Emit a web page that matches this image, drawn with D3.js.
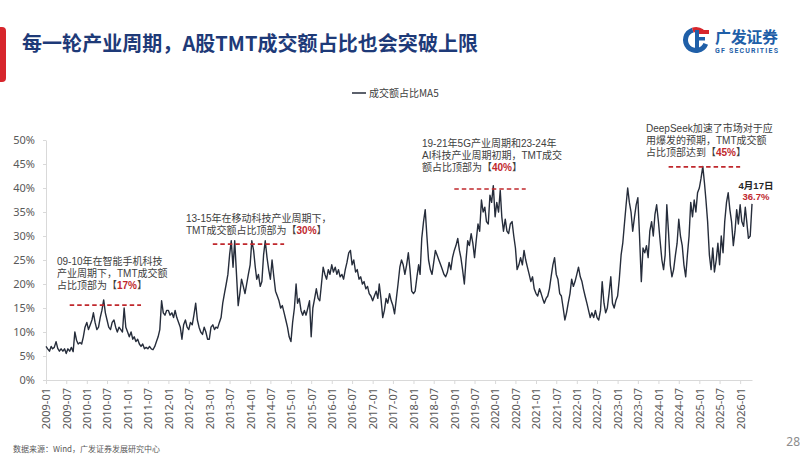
<!DOCTYPE html>
<html>
<head>
<meta charset="UTF-8">
<title>TMT成交额占比</title>
<script src="https://d3js.org/d3.v7.min.js"></script>
<style>
body { margin: 0; background: #fff; }
svg { display: block; font-family: "Noto Sans CJK SC", "Noto Sans", sans-serif; }
.note { font-family: "Liberation Sans", "Noto Sans CJK SC", sans-serif; }
</style>
</head>
<body>
<svg id="chart" width="800" height="456"></svg>
<script>
const v2009 = [7.0,6.5,6.0,7.0,6.5,6.8,8.0,6.6,6.0,6.5,6.0,6.5,5.5,6.5,6.0,6.8,5.9,10.0,8.3,7.5,7.8,7.5,9.0,11.0];
const v2010 = [12.0,10.5,11.5,12.5,14.0,12.0,10.5,11.0,13.0,14.5,16.7,14.0,12.5,11.0,10.5,12.0,12.5,11.0,10.0,11.0,10.5,10.0,15.0,11.0];
const v2011 = [10.0,9.0,10.0,8.5,9.0,8.0,8.5,7.5,7.0,7.5,6.5,6.8,6.5,7.0,6.5,6.3,7.0,8.0,9.0,10.5,16.5,14.0,13.5,14.5];
const v2012 = [14.5,13.5,14.0,13.0,14.5,13.0,12.0,11.0,8.5,11.5,12.5,11.0,10.5,12.0,11.5,13.5,16.0,12.5,11.0,10.0,9.5,11.0,10.0,8.5];
const v2013 = [8.5,11.0,11.5,10.5,11.0,10.8,12.0,13.0,16.0,18.0,20.0,22.0,26.0,29.0,23.5,29.0,22.0,15.5,18.0,21.0,19.5,18.0,20.0,22.0];
const v2014 = [24.0,29.0,27.0,23.5,21.0,22.0,19.5,20.5,26.0,29.0,25.5,23.0,21.0,25.0,21.5,18.5,17.5,16.5,15.0,15.5,14.0,12.5,11.0,9.0];
const v2015 = [8.0,12.0,15.0,20.0,16.0,17.0,14.5,13.5,14.5,13.5,15.0,16.5,9.0,15.0,17.0,19.0,17.0,16.5,20.0,23.5,22.0,21.0,23.0,22.0];
const v2016 = [24.0,22.5,23.5,22.0,23.0,21.5,22.0,21.0,23.0,24.5,26.5,27.0,24.0,25.0,22.5,23.0,21.0,21.5,20.0,20.5,19.0,19.5,18.0,17.5];
const v2017 = [16.5,17.5,18.5,17.0,20.0,17.0,13.0,14.5,17.0,16.0,18.0,16.5,15.5,13.8,17.0,20.0,23.5,25.0,24.0,22.0,24.0,26.5,23.0,18.5];
const v2018 = [18.0,18.5,21.5,24.0,22.0,29.5,33.0,35.5,30.0,25.0,23.0,22.0,24.5,27.0,26.0,25.0,24.0,23.0,22.0,21.5,22.5,24.5,23.0,25.5];
const v2019 = [27.0,28.0,29.5,27.0,25.5,23.0,20.0,25.0,29.0,28.0,30.5,28.5,25.5,29.0,32.5,31.0,37.5,35.0,36.0,33.0,32.5,38.5,37.0,40.5];
const v2020 = [34.0,37.0,35.0,39.5,34.0,31.0,33.5,31.0,30.5,32.5,33.0,30.0,27.5,23.0,24.0,25.5,24.0,27.0,25.0,23.5,22.0,20.5,21.5,19.0];
const v2021 = [18.0,17.5,19.0,18.0,17.0,16.0,17.0,17.5,19.0,21.5,24.0,25.5,22.0,21.0,18.0,17.5,15.0,12.5,14.0,16.0,18.0,21.0,19.5,20.5];
const v2022 = [22.0,23.5,21.5,20.5,19.0,17.5,16.0,14.5,13.0,14.0,13.0,14.5,13.0,12.5,14.5,20.5,16.0,14.0,15.0,18.0,21.5,16.0,15.0,16.5];
const v2023 = [17.5,21.0,26.0,28.5,32.0,36.0,40.0,37.0,35.0,31.0,34.0,36.5,38.0,30.0,20.5,27.5,26.5,28.0,25.5,31.0,33.0,30.0,34.5,36.5];
const v2024 = [33.0,29.0,25.0,23.0,26.0,36.5,30.5,24.0,21.5,23.0,26.0,28.5,33.5,30.0,28.0,24.0,21.5,26.0,30.0,37.0,34.0,37.5,35.0,39.0];
const v2025 = [40.0,42.0,44.5,41.0,37.5,33.0,26.0,23.0,27.5,22.5,25.0,28.5,24.0,30.0,26.5,33.0,37.0,39.0,35.5,33.0,28.0,31.0,35.5,32.5];
const v2026 = [36.5,33.0,32.0,36.0,33.0,29.5,30.0];

const years = [2009,2010,2011,2012,2013,2014,2015,2016,2017,2018,2019,2020,2021,2022,2023,2024,2025,2026];
const series = [v2009,v2010,v2011,v2012,v2013,v2014,v2015,v2016,v2017,v2018,v2019,v2020,v2021,v2022,v2023,v2024,v2025,v2026];
const lastDate = "2026-04-17";
const lastValue = 36.7;

const yTicks = [0,5,10,15,20,25,30,35,40,45,50];

// cycle peak markers: start, end, level
const peakFrom  = ["2009-08","2013-02","2019-01","2024-04"];
const peakTo    = ["2011-05","2014-11","2020-10","2026-01"];
const peakLevel = [15.6, 28.3, 39.8, 44.4];

const notes = [
    ["09-10年在智能手机科技", "产业周期下，TMT成交额", "占比顶部为【{17%}】"],
    ["13-15年在移动科技产业周期下，", "TMT成交额占比顶部为【{30%}】"],
    ["19-21年5G产业周期和23-24年", "AI科技产业周期初期，TMT成交", "额占比顶部为【{40%}】"],
    ["DeepSeek加速了市场对于应", "用爆发的预期，TMT成交额", "占比顶部达到【{45%}】"]
];

const RED = "#c0282d";
const INK = "#262d3b";

let data = [];
years.forEach((yr, k) => {
    series[k].forEach((v, i) => {
        data.push({date: new Date(yr, Math.floor(i / 2), i % 2 ? 16 : 1), value: v});
    });
});
const parse = d3.timeParse("%Y-%m-%d");
const parseM = d3.timeParse("%Y-%m");
data.push({date: parse(lastDate), value: lastValue});

const svg = d3.select("#chart");

let x = d3.scaleTime()
    .domain([new Date(2009, 0, 1), parse(lastDate)])
    .range([46, 752]);
let y = d3.scaleLinear()
    .domain([0, 50])
    .range([380, 140]);

// header
svg.append("rect")
    .attr("x", -5).attr("y", 27)
    .attr("width", 11).attr("height", 55)
    .attr("rx", 4)
    .attr("fill", "#d7262c");
svg.append("text")
    .attr("x", 22).attr("y", 51)
    .attr("font-size", 20)
    .attr("font-weight", "bold")
    .attr("fill", "#1e3a78")
    .attr("textLength", 456)
    .text("每一轮产业周期，A股TMT成交额占比也会突破上限");

// logo
let logo = svg.append("g").attr("transform", "translate(696,40)");
logo.append("path")
    .attr("d", d3.arc()({innerRadius: 8, outerRadius: 13, startAngle: Math.PI * 0.62, endAngle: Math.PI * 1.9}))
    .attr("fill", "#1f5fa8");
logo.append("path")
    .attr("d", d3.arc()({innerRadius: 8, outerRadius: 13, startAngle: Math.PI * 1.9, endAngle: Math.PI * 2.2}))
    .attr("fill", "#d7262c");
logo.append("rect").attr("x", -1).attr("y", -10).attr("width", 14).attr("height", 4).attr("fill", "#d7262c");
logo.append("rect").attr("x", -1).attr("y", -3).attr("width", 10).attr("height", 3.5).attr("fill", "#1f5fa8");
logo.append("rect").attr("x", -1).attr("y", -10).attr("width", 4).attr("height", 20).attr("fill", "#1f5fa8");
svg.append("text")
    .attr("x", 715).attr("y", 43)
    .attr("font-size", 16)
    .attr("font-weight", "bold")
    .attr("fill", "#1f5fa8")
    .attr("textLength", 63)
    .text("广发证券");
svg.append("text")
    .attr("x", 715).attr("y", 53)
    .attr("font-family", "Roboto, sans-serif")
    .attr("font-size", 7)
    .attr("font-weight", "bold")
    .attr("fill", "#1f5fa8")
    .attr("textLength", 63)
    .text("GF SECURITIES");

// legend
svg.append("line")
    .attr("x1", 352).attr("x2", 366)
    .attr("y1", 93).attr("y2", 93)
    .attr("stroke", INK).attr("stroke-width", 1.5);
svg.append("text")
    .attr("x", 369).attr("y", 96.5)
    .attr("font-size", 10)
    .attr("fill", "#404040")
    .text("成交额占比MA5");

// axes
let xTicks = d3.timeMonth.every(6).range(new Date(2009, 0, 1), new Date(2026, 0, 2));
svg.append("g")
    .attr("transform", "translate(0,380)")
    .call(d3.axisBottom(x).tickValues(xTicks).tickFormat(d3.timeFormat("%Y-%m")).tickSize(4).tickSizeOuter(0))
    .call(g => g.select(".domain").attr("stroke", "#d9d9d9"))
    .call(g => g.selectAll(".tick line").attr("stroke", "#d9d9d9"))
    .call(g => g.selectAll(".tick text")
        .attr("transform", "rotate(-90)")
        .attr("text-anchor", "end")
        .attr("x", -8).attr("y", 0)
        .attr("dy", "0.35em")
        .attr("font-size", 11)
        .attr("font-family", "'Noto Sans', sans-serif")
        .attr("fill", "#595959"));

svg.append("g")
    .attr("transform", "translate(46,0)")
    .call(d3.axisLeft(y).tickValues(yTicks).tickFormat(d => d + "%").tickSize(3).tickPadding(8).tickSizeOuter(0))
    .call(g => g.select(".domain").attr("stroke", "#d9d9d9"))
    .call(g => g.selectAll(".tick line").attr("stroke", "#d9d9d9"))
    .call(g => g.selectAll(".tick text")
        .attr("font-size", 11)
        .attr("font-family", "'Noto Sans', sans-serif")
        .attr("fill", "#595959"));

// series
let line = d3.line()
    .x(d => x(d.date))
    .y(d => y(d.value));
svg.append("path")
    .datum(data)
    .attr("d", line)
    .attr("fill", "none")
    .attr("stroke", INK)
    .attr("stroke-width", 1.4)
    .attr("stroke-linejoin", "round");

// peak markers
peakLevel.forEach((lv, i) => {
    svg.append("line")
        .attr("x1", x(parseM(peakFrom[i]))).attr("x2", x(parseM(peakTo[i])))
        .attr("y1", y(lv)).attr("y2", y(lv))
        .attr("stroke", RED)
        .attr("stroke-width", 1.6)
        .attr("stroke-dasharray", "4.5,3");
});

// notes, one text per row
const notePos = [[57, 265], [186, 222], [422, 147], [646, 132]];
notes.forEach((lines, k) => {
    lines.forEach((ln, i) => {
        let t = svg.append("text")
            .attr("class", "note")
            .attr("x", notePos[k][0])
            .attr("y", notePos[k][1] + i * 12)
            .attr("font-size", 10)
            .attr("fill", "#404040");
        ln.split(/(\{[^}]*\})/).filter(s => s.length).forEach(part => {
            if (part[0] === "{") {
                t.append("tspan").attr("fill", RED).attr("font-weight", "bold").text(part.slice(1, -1));
            } else {
                t.append("tspan").text(part);
            }
        });
    });
});

// last value
svg.append("text")
    .attr("class", "note")
    .attr("x", 756).attr("y", 188.5)
    .attr("text-anchor", "middle")
    .attr("font-size", 9.5)
    .attr("font-weight", "bold")
    .attr("fill", "#262626")
    .text("4月17日");
svg.append("text")
    .attr("class", "note")
    .attr("x", 756).attr("y", 200)
    .attr("text-anchor", "middle")
    .attr("font-size", 9.5)
    .attr("font-weight", "bold")
    .attr("fill", RED)
    .text(lastValue + "%");

// footer
svg.append("text")
    .attr("x", 13).attr("y", 452)
    .attr("font-size", 8)
    .attr("fill", "#595959")
    .text("数据来源：Wind，广发证券发展研究中心");
svg.append("text")
    .attr("x", 800).attr("y", 446)
    .attr("text-anchor", "end")
    .attr("font-size", 12)
    .attr("font-family", "'Noto Sans', sans-serif")
    .attr("fill", "#8c8c8c")
    .text("28");
</script>
</body>
</html>
